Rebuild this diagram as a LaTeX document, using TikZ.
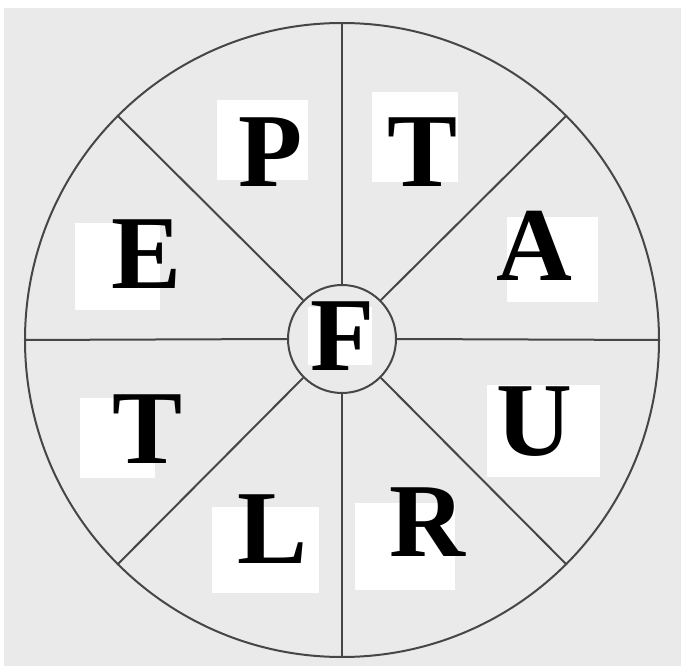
\documentclass[tikz,border=0pt]{standalone}
\usepackage{fontspec}
\setmainfont{Liberation Serif}[BoldFont={Liberation Serif Bold}]
\newfontfamily\bigserif{Liberation Serif Bold}
\definecolor{bgray}{RGB}{234,234,234}
\definecolor{lgray}{RGB}{70,70,70}
\begin{document}
\begin{tikzpicture}[x=1pt,y=-1pt,
  wheelline/.style={draw=lgray,line width=2pt},
  patch/.style={fill=white,draw=none},
  letter/.style={anchor=base,inner sep=0pt,font=\bigserif\fontsize{105}{110}\selectfont}]
\useasboundingbox (0,0) rectangle (681,666);
\fill[bgray] (4,8) rectangle (681,666);
% rim and hub
\node[circle,minimum size=634pt,inner sep=0pt,wheelline] (rim) at (342,340) {};
\node[circle,minimum size=108pt,inner sep=0pt,wheelline] (hub) at (342,339) {};
% spokes
\foreach \a in {0,45,90,135,180,225,270,315}
  \draw[wheelline] (hub.\a) -- (rim.\a);
% white patches
\fill[patch] (217,100) rectangle (308,180);
\fill[patch] (372,92) rectangle (458,182);
\fill[patch] (507,217) rectangle (598,302);
\fill[patch] (75,223) rectangle (160,310);
\fill[patch] (308,307) rectangle (372,365);
\fill[patch] (80,398) rectangle (155,478);
\fill[patch] (487,385) rectangle (600,477);
\fill[patch] (212,507) rectangle (319,593);
\fill[patch] (355,503) rectangle (455,590);
% letters
\node[letter] (lp) at (271,187) {P};
\node[letter] (lt1) at (422.5,187) {T};
\node[letter] (la) at (534.5,280) {A};
\node[letter] (le) at (146.5,288) {E};
\node[letter] (lf) at (342.5,370) {F};
\node[letter] (lt2) at (147.5,463) {T};
\node[letter] (lu) at (534,455) {U};
\node[letter] (ll) at (273,563) {L};
\node[letter] (lr) at (427.5,556) {R};
\end{tikzpicture}
\end{document}
